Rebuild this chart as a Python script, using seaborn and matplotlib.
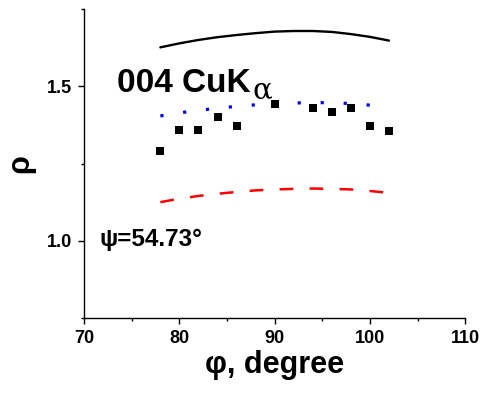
import numpy as np
import pandas as pd
import matplotlib
matplotlib.use("Agg")
import matplotlib.pyplot as plt
import seaborn as sns
from matplotlib.ticker import MultipleLocator

# measured points (squares)
phi_exp = [78, 80, 82, 84, 86, 90, 94, 96, 98, 100, 102]
rho_exp = [1.290, 1.360, 1.360, 1.400, 1.372, 1.443, 1.429, 1.417, 1.431, 1.370, 1.356]

# model curves
phi_calc = [78, 80, 82, 84, 86, 88, 90, 92, 94, 96, 98, 100, 102]
rho_solid = [1.626, 1.639, 1.650, 1.659, 1.666, 1.672, 1.677, 1.679, 1.679, 1.676, 1.669, 1.660, 1.648]
rho_dotted = [1.404, 1.414, 1.422, 1.429, 1.435, 1.440, 1.443, 1.446, 1.447, 1.447, 1.444, 1.439, 1.431]
rho_dashed = [1.125, 1.136, 1.145, 1.152, 1.158, 1.163, 1.166, 1.168, 1.169, 1.168, 1.166, 1.161, 1.155]

sns.set_style("ticks")
plt.rcParams["font.family"] = ["Liberation Sans", "DejaVu Sans"]
plt.rcParams["font.weight"] = "bold"
plt.rcParams["text.color"] = "black"
plt.rcParams["axes.labelcolor"] = "black"
plt.rcParams["xtick.color"] = "black"
plt.rcParams["ytick.color"] = "black"

fig = plt.figure(figsize=(4.81, 3.94), dpi=100)
ax = fig.add_axes([0.175, 0.193, 0.792, 0.784])

calc = pd.DataFrame({"phi": phi_calc, "solid": rho_solid, "dotted": rho_dotted, "dashed": rho_dashed})
exp = pd.DataFrame({"phi": phi_exp, "rho": rho_exp})

sns.lineplot(data=calc, x="phi", y="solid", color="black", lw=1.7, ax=ax)
sns.lineplot(data=calc, x="phi", y="dotted", color="#0000ff", lw=2.3, ax=ax,
             linestyle=(0, (1, 6.2)))
sns.lineplot(data=calc, x="phi", y="dashed", color="#ff0000", lw=1.8, ax=ax,
             linestyle=(0, (5.5, 6.5)))
sns.scatterplot(data=exp, x="phi", y="rho", marker="s", s=32, color="black",
                edgecolor="black", linewidth=0, ax=ax, zorder=5)

ax.set_xlim(70, 110)
ax.set_ylim(0.75, 1.75)
ax.set_xticks([70, 80, 90, 100, 110])
ax.set_yticks([1.0, 1.5])
ax.xaxis.set_minor_locator(MultipleLocator(5))
ax.yaxis.set_minor_locator(MultipleLocator(0.25))
ax.tick_params(which="major", direction="out", length=4, width=1, labelsize=13, pad=5,
               colors="black")
ax.tick_params(which="minor", direction="out", length=2.5, width=1, colors="black")
for lab in ax.get_xticklabels() + ax.get_yticklabels():
    lab.set_fontweight("bold")

sns.despine(ax=ax)
for s in ["left", "bottom"]:
    ax.spines[s].set_linewidth(1)
    ax.spines[s].set_color("black")

ax.set_xlabel("φ, degree", fontsize=22, fontweight="bold", labelpad=2, color="black")
ax.set_ylabel("ρ", fontsize=22, fontweight="bold", labelpad=8, color="black")

ax.text(0.085, 0.733, "004 CuK", transform=ax.transAxes, fontsize=24,
        fontweight="bold", ha="left", va="baseline", color="black")
ax.text(0.442, 0.712, "α", transform=ax.transAxes, fontsize=21,
        fontweight="normal", family=["DejaVu Serif"], ha="left", va="baseline",
        color="black")
ax.text(0.04, 0.255, "ψ=54.73°", transform=ax.transAxes, fontsize=17.5,
        fontweight="bold", ha="left", va="center", color="black")

fig.savefig("out.png", dpi=100)
